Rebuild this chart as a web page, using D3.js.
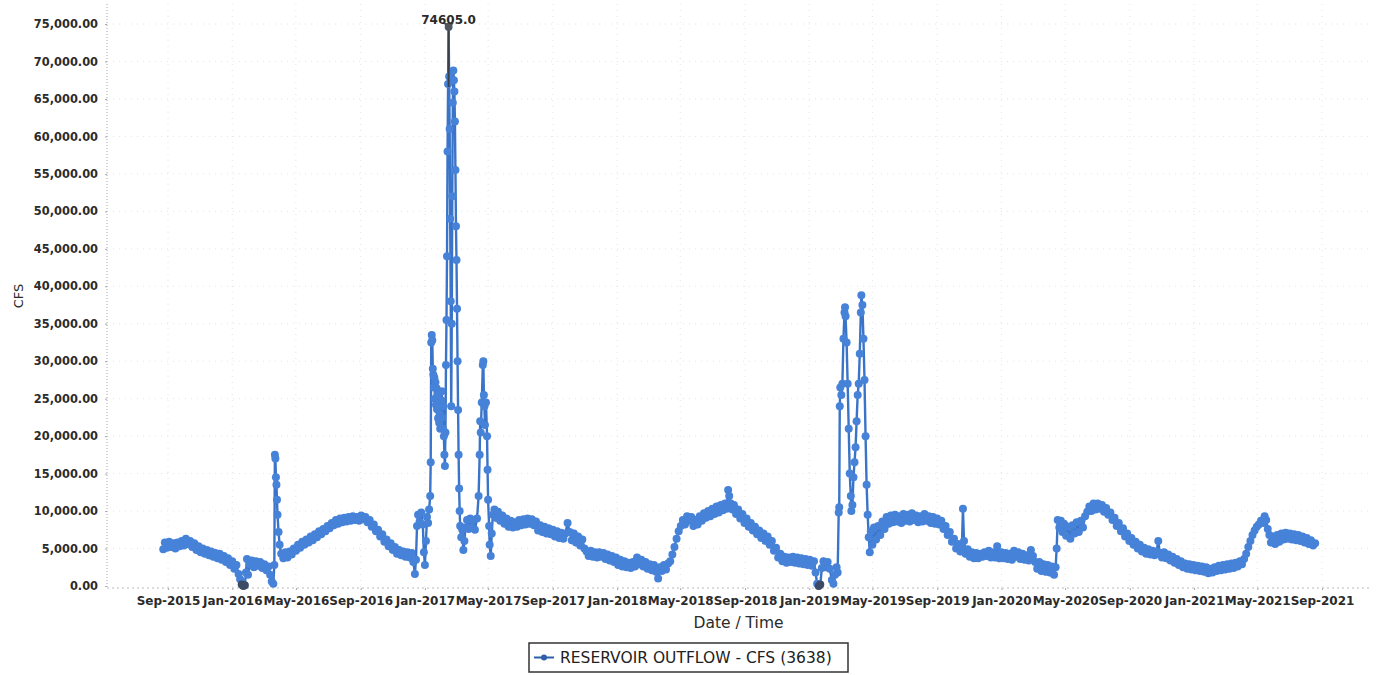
<!DOCTYPE html>
<html lang="en">
<head>
<meta charset="utf-8">
<title>Reservoir Outflow</title>
<style>
  body { margin: 0; background: #fff; }
  svg { display: block; font-family: "DejaVu Sans", sans-serif; }
</style>
</head>
<body>
<script src="https://d3js.org/d3.v7.min.js"></script>
<script>
// series name shown in legend
const seriesName = "RESERVOIR OUTFLOW - CFS (3638)";

// x tick dates (every 4 months)
const xTicks = ["2015-09-01","2016-01-01","2016-05-01","2016-09-01","2017-01-01","2017-05-01",
  "2017-09-01","2018-01-01","2018-05-01","2018-09-01","2019-01-01","2019-05-01","2019-09-01",
  "2020-01-01","2020-05-01","2020-09-01","2021-01-01","2021-05-01","2021-09-01"];

// y ticks (cfs)
const yTicks = [0,5000,10000,15000,20000,25000,30000,35000,40000,45000,50000,55000,60000,65000,70000,75000];

// outflow readings [date, cfs]
const outflow = [
["2015-08-23",4900],["2015-08-26",5800],["2015-08-30",5100],["2015-09-03",5900],["2015-09-07",5200],["2015-09-11",5700],
["2015-09-15",5000],["2015-09-19",5800],["2015-09-23",5300],["2015-09-27",6000],["2015-10-01",5400],["2015-10-05",6300],
["2015-10-09",5600],["2015-10-13",6000],["2015-10-17",5200],["2015-10-21",5700],["2015-10-25",4800],["2015-10-29",5300],
["2015-11-02",4500],["2015-11-06",5000],["2015-11-10",4300],["2015-11-14",4800],["2015-11-18",4100],["2015-11-22",4600],
["2015-11-26",3900],["2015-11-30",4400],["2015-12-04",3700],["2015-12-08",4300],["2015-12-12",3500],["2015-12-16",4000],
["2015-12-20",3200],["2015-12-24",3700],["2015-12-28",2800],["2016-01-01",3300],["2016-01-05",2300],["2016-01-09",2800],
["2016-01-13",1600],["2016-01-16",900],["2016-01-19",200],["2016-01-22",0],["2016-01-25",100],["2016-01-27",1800],
["2016-01-29",3600],["2016-01-31",1500],["2016-02-03",2900],["2016-02-07",3400],["2016-02-11",2500],["2016-02-15",3300],
["2016-02-19",2700],["2016-02-23",3200],["2016-02-27",2400],["2016-03-02",2900],["2016-03-06",2100],["2016-03-10",2600],
["2016-03-13",1500],["2016-03-16",600],["2016-03-19",300],["2016-03-21",2800],["2016-03-22",17500],["2016-03-23",17000],
["2016-03-24",14500],["2016-03-25",13500],["2016-03-26",11500],["2016-03-27",9500],["2016-03-29",7200],["2016-03-31",5500],
["2016-04-03",4300],["2016-04-07",3700],["2016-04-11",4500],["2016-04-15",3800],["2016-04-19",4600],["2016-04-23",4200],
["2016-04-27",5000],["2016-05-01",4700],["2016-05-05",5500],["2016-05-09",5100],["2016-05-13",5900],["2016-05-17",5500],
["2016-05-21",6200],["2016-05-25",5800],["2016-05-29",6600],["2016-06-02",6100],["2016-06-06",6900],["2016-06-10",6500],
["2016-06-14",7300],["2016-06-18",6900],["2016-06-22",7600],["2016-06-26",7300],["2016-06-30",8000],["2016-07-04",7700],
["2016-07-08",8400],["2016-07-12",8100],["2016-07-16",8800],["2016-07-20",8300],["2016-07-24",9000],["2016-07-28",8500],
["2016-08-01",9100],["2016-08-05",8600],["2016-08-09",9200],["2016-08-13",8700],["2016-08-17",9300],["2016-08-21",8800],
["2016-08-25",9200],["2016-08-29",8700],["2016-09-02",9400],["2016-09-06",8900],["2016-09-10",9200],["2016-09-14",8500],
["2016-09-18",8800],["2016-09-22",7900],["2016-09-26",8200],["2016-09-30",7300],["2016-10-04",7500],["2016-10-08",6600],
["2016-10-12",6900],["2016-10-16",5900],["2016-10-20",6200],["2016-10-24",5300],["2016-10-28",5700],["2016-11-01",4800],
["2016-11-05",5200],["2016-11-09",4300],["2016-11-13",4800],["2016-11-17",4100],["2016-11-21",4600],["2016-11-25",3900],
["2016-11-29",4500],["2016-12-03",3800],["2016-12-07",4400],["2016-12-10",3200],["2016-12-13",1600],["2016-12-15",3500],
["2016-12-17",8000],["2016-12-19",9500],["2016-12-22",8600],["2016-12-25",9800],["2016-12-28",8200],["2016-12-30",4500],
["2017-01-01",2800],["2017-01-03",6000],["2017-01-05",9200],["2017-01-07",8400],["2017-01-09",10200],["2017-01-11",12000],
["2017-01-12",16500],["2017-01-13",32500],["2017-01-14",33500],["2017-01-15",32800],["2017-01-16",29000],["2017-01-17",28200],
["2017-01-18",26500],["2017-01-19",27800],["2017-01-20",25000],["2017-01-21",27200],["2017-01-22",24200],["2017-01-23",26400],
["2017-01-24",23600],["2017-01-25",25500],["2017-01-26",22400],["2017-01-27",24000],["2017-01-28",21800],["2017-01-29",23000],
["2017-01-30",21000],["2017-02-01",24800],["2017-02-02",26000],["2017-02-03",22500],["2017-02-04",21000],["2017-02-05",24000],
["2017-02-06",20000],["2017-02-07",17500],["2017-02-08",16000],["2017-02-09",20500],["2017-02-10",29500],["2017-02-11",35500],
["2017-02-12",44000],["2017-02-13",58000],["2017-02-14",67000],["2017-02-15",74605],["2017-02-16",68000],["2017-02-17",61000],
["2017-02-18",49000],["2017-02-19",38000],["2017-02-20",24000],["2017-02-21",35000],["2017-02-22",52000],["2017-02-23",64500],
["2017-02-24",68800],["2017-02-25",67500],["2017-02-26",66000],["2017-02-27",62000],["2017-02-28",55500],["2017-03-01",48000],
["2017-03-02",43500],["2017-03-03",37000],["2017-03-04",30000],["2017-03-05",23500],["2017-03-06",17500],["2017-03-07",13000],
["2017-03-08",10000],["2017-03-09",8000],["2017-03-11",6500],["2017-03-13",7500],["2017-03-15",4800],["2017-03-17",6000],
["2017-03-19",7800],["2017-03-22",8800],["2017-03-25",7600],["2017-03-28",9000],["2017-03-31",7800],["2017-04-03",8800],
["2017-04-06",7500],["2017-04-10",9000],["2017-04-13",12000],["2017-04-15",17500],["2017-04-16",22000],["2017-04-17",20500],
["2017-04-19",24500],["2017-04-21",29500],["2017-04-22",30000],["2017-04-23",25500],["2017-04-24",24000],["2017-04-25",21500],
["2017-04-27",24500],["2017-04-29",20000],["2017-04-30",15500],["2017-05-01",11500],["2017-05-03",8000],["2017-05-04",5500],
["2017-05-06",4000],["2017-05-08",7000],["2017-05-10",9500],["2017-05-13",10200],["2017-05-16",9100],["2017-05-20",9900],
["2017-05-24",8700],["2017-05-28",9400],["2017-06-01",8300],["2017-06-05",9000],["2017-06-09",7900],["2017-06-13",8700],
["2017-06-17",7800],["2017-06-21",8500],["2017-06-25",7900],["2017-06-29",8800],["2017-07-03",8100],["2017-07-07",8900],
["2017-07-11",8200],["2017-07-15",9000],["2017-07-19",8300],["2017-07-23",8900],["2017-07-27",8100],["2017-07-31",8600],
["2017-08-04",7400],["2017-08-08",8100],["2017-08-12",7200],["2017-08-16",7900],["2017-08-20",7000],["2017-08-24",7700],
["2017-08-28",6900],["2017-09-01",7500],["2017-09-05",6600],["2017-09-09",7300],["2017-09-13",6400],["2017-09-17",7100],
["2017-09-21",6300],["2017-09-25",7000],["2017-09-29",8400],["2017-10-03",7200],["2017-10-07",6100],["2017-10-11",7000],
["2017-10-15",5800],["2017-10-19",6600],["2017-10-23",5400],["2017-10-27",6200],["2017-10-31",5000],["2017-11-04",4600],
["2017-11-08",4000],["2017-11-12",4700],["2017-11-16",3900],["2017-11-20",4500],["2017-11-24",3800],["2017-11-28",4500],
["2017-12-02",3900],["2017-12-06",4400],["2017-12-10",3600],["2017-12-14",4200],["2017-12-18",3400],["2017-12-22",4000],
["2017-12-26",3200],["2017-12-30",3800],["2018-01-03",2800],["2018-01-07",3500],["2018-01-11",2600],["2018-01-15",3300],
["2018-01-19",2500],["2018-01-23",3100],["2018-01-27",2400],["2018-01-31",3200],["2018-02-04",2600],["2018-02-08",3800],
["2018-02-12",2900],["2018-02-16",3500],["2018-02-20",2600],["2018-02-24",3200],["2018-02-28",2300],["2018-03-04",2900],
["2018-03-08",2100],["2018-03-12",2800],["2018-03-16",1900],["2018-03-20",1000],["2018-03-23",2500],["2018-03-27",2000],
["2018-03-31",2800],["2018-04-04",2200],["2018-04-08",3000],["2018-04-12",3300],["2018-04-16",4200],["2018-04-20",5200],
["2018-04-24",6300],["2018-04-28",7300],["2018-05-02",8000],["2018-05-06",8800],["2018-05-10",8200],["2018-05-14",9300],
["2018-05-18",8700],["2018-05-22",9200],["2018-05-26",8000],["2018-05-30",8800],["2018-06-03",8200],["2018-06-07",9300],
["2018-06-11",8700],["2018-06-15",9700],["2018-06-19",9100],["2018-06-23",10000],["2018-06-27",9300],["2018-07-01",10300],
["2018-07-05",9600],["2018-07-09",10600],["2018-07-13",9800],["2018-07-17",10800],["2018-07-21",10100],["2018-07-25",11000],
["2018-07-28",10300],["2018-07-31",12800],["2018-08-02",12000],["2018-08-05",11000],["2018-08-08",10200],["2018-08-11",10800],
["2018-08-15",9600],["2018-08-19",10200],["2018-08-23",9000],["2018-08-27",9600],["2018-08-31",8400],["2018-09-04",9000],
["2018-09-08",7900],["2018-09-12",8400],["2018-09-16",7400],["2018-09-20",7900],["2018-09-24",6900],["2018-09-28",7400],
["2018-10-02",6400],["2018-10-06",7000],["2018-10-10",6000],["2018-10-14",6600],["2018-10-18",5500],["2018-10-22",6000],
["2018-10-26",4700],["2018-10-30",5100],["2018-11-03",3800],["2018-11-07",4300],["2018-11-11",3300],["2018-11-15",3900],
["2018-11-19",3100],["2018-11-23",3800],["2018-11-27",3200],["2018-12-01",3900],["2018-12-05",3100],["2018-12-09",3800],
["2018-12-13",3000],["2018-12-17",3700],["2018-12-21",2900],["2018-12-25",3600],["2018-12-29",2800],["2019-01-02",3500],
["2019-01-06",2700],["2019-01-10",3300],["2019-01-13",1800],["2019-01-16",300],["2019-01-19",0],["2019-01-22",200],
["2019-01-25",2400],["2019-01-28",3300],["2019-02-01",2500],["2019-02-05",3200],["2019-02-09",2300],["2019-02-13",800],
["2019-02-16",300],["2019-02-19",1500],["2019-02-22",2500],["2019-02-24",1800],["2019-02-26",9800],["2019-02-27",10500],
["2019-02-28",24000],["2019-03-01",26500],["2019-03-03",25500],["2019-03-05",27000],["2019-03-07",33000],["2019-03-09",36500],
["2019-03-10",37200],["2019-03-11",36000],["2019-03-13",32500],["2019-03-15",27000],["2019-03-17",21000],["2019-03-19",15000],
["2019-03-21",12000],["2019-03-22",10000],["2019-03-24",10800],["2019-03-26",14500],["2019-03-28",16500],["2019-03-30",18500],
["2019-04-01",22000],["2019-04-03",25500],["2019-04-05",27000],["2019-04-07",31000],["2019-04-09",36500],["2019-04-10",38800],
["2019-04-12",37500],["2019-04-14",33000],["2019-04-16",27500],["2019-04-18",20000],["2019-04-20",13500],["2019-04-22",9500],
["2019-04-24",6500],["2019-04-26",4500],["2019-04-28",7300],["2019-05-01",5500],["2019-05-04",7800],["2019-05-08",6200],
["2019-05-12",8000],["2019-05-16",6800],["2019-05-20",8600],["2019-05-24",7600],["2019-05-28",9200],["2019-06-01",8300],
["2019-06-05",9400],["2019-06-09",8500],["2019-06-13",9500],["2019-06-17",8600],["2019-06-21",9300],["2019-06-25",8400],
["2019-06-29",9600],["2019-07-03",8700],["2019-07-07",9500],["2019-07-11",8600],["2019-07-15",9700],["2019-07-19",8800],
["2019-07-23",9400],["2019-07-27",8500],["2019-07-31",9300],["2019-08-04",8600],["2019-08-08",9600],["2019-08-12",8700],
["2019-08-16",9300],["2019-08-20",8400],["2019-08-24",9200],["2019-08-28",8300],["2019-09-01",9000],["2019-09-05",8200],
["2019-09-09",8700],["2019-09-13",7600],["2019-09-17",8000],["2019-09-21",6800],["2019-09-25",7200],["2019-09-29",5900],
["2019-10-03",6300],["2019-10-07",5000],["2019-10-11",5600],["2019-10-15",4600],["2019-10-18",5300],["2019-10-20",10300],
["2019-10-22",6000],["2019-10-25",4300],["2019-10-29",4900],["2019-11-02",3900],["2019-11-06",4500],["2019-11-10",3700],
["2019-11-14",4400],["2019-11-18",3700],["2019-11-22",4300],["2019-11-26",3900],["2019-11-30",4500],["2019-12-04",4000],
["2019-12-08",4700],["2019-12-12",3800],["2019-12-16",4500],["2019-12-20",3800],["2019-12-24",5300],["2019-12-28",3700],
["2020-01-01",4500],["2020-01-05",3700],["2020-01-09",4400],["2020-01-13",3600],["2020-01-17",4300],["2020-01-21",3500],
["2020-01-25",4700],["2020-01-29",3900],["2020-02-02",4500],["2020-02-06",3600],["2020-02-10",4300],["2020-02-14",3500],
["2020-02-18",4100],["2020-02-22",3400],["2020-02-26",4800],["2020-03-01",4000],["2020-03-05",3200],["2020-03-09",2300],
["2020-03-13",3200],["2020-03-17",2000],["2020-03-21",2900],["2020-03-25",1900],["2020-03-29",2800],["2020-04-02",1800],
["2020-04-06",2600],["2020-04-10",1500],["2020-04-13",2500],["2020-04-15",5000],["2020-04-17",8800],["2020-04-20",7800],
["2020-04-23",8700],["2020-04-26",7200],["2020-04-29",8300],["2020-05-03",6700],["2020-05-07",7900],["2020-05-11",6300],
["2020-05-15",8100],["2020-05-19",7000],["2020-05-23",8500],["2020-05-27",7200],["2020-05-31",8700],["2020-06-04",7800],
["2020-06-08",9300],["2020-06-12",9900],["2020-06-16",10600],["2020-06-20",10000],["2020-06-24",11000],["2020-06-28",10200],
["2020-07-02",11000],["2020-07-06",10300],["2020-07-10",10800],["2020-07-14",9900],["2020-07-18",10400],["2020-07-22",9500],
["2020-07-26",9800],["2020-07-30",8800],["2020-08-03",9100],["2020-08-07",8000],["2020-08-11",8400],["2020-08-15",7300],
["2020-08-19",7700],["2020-08-23",6600],["2020-08-27",7000],["2020-08-31",6000],["2020-09-04",6400],["2020-09-08",5500],
["2020-09-12",5900],["2020-09-16",5000],["2020-09-20",5500],["2020-09-24",4600],["2020-09-28",5100],["2020-10-02",4300],
["2020-10-06",4900],["2020-10-10",4200],["2020-10-14",4700],["2020-10-18",4100],["2020-10-22",4600],["2020-10-25",6000],
["2020-10-28",4400],["2020-11-01",3800],["2020-11-05",4500],["2020-11-09",3700],["2020-11-13",4200],["2020-11-17",3400],
["2020-11-21",3900],["2020-11-25",3100],["2020-11-29",3600],["2020-12-03",2800],["2020-12-07",3300],["2020-12-11",2500],
["2020-12-15",3000],["2020-12-19",2300],["2020-12-23",2900],["2020-12-27",2200],["2020-12-31",2800],["2021-01-04",2100],
["2021-01-08",2700],["2021-01-12",2000],["2021-01-16",2600],["2021-01-20",1900],["2021-01-24",2500],["2021-01-28",1700],
["2021-02-01",2300],["2021-02-05",1800],["2021-02-09",2500],["2021-02-13",2000],["2021-02-17",2700],["2021-02-21",2100],
["2021-02-25",2800],["2021-03-01",2200],["2021-03-05",2900],["2021-03-09",2300],["2021-03-13",3000],["2021-03-17",2400],
["2021-03-21",3100],["2021-03-25",2600],["2021-03-29",3300],["2021-04-02",2900],["2021-04-06",3600],["2021-04-10",4300],
["2021-04-14",5200],["2021-04-18",6000],["2021-04-22",6800],["2021-04-26",7400],["2021-04-30",7900],["2021-05-04",8200],
["2021-05-08",8700],["2021-05-12",8400],["2021-05-15",9300],["2021-05-18",8800],["2021-05-21",7600],["2021-05-24",6800],
["2021-05-27",5800],["2021-05-31",6600],["2021-06-04",5600],["2021-06-08",6800],["2021-06-12",5900],["2021-06-16",7000],
["2021-06-20",6200],["2021-06-24",7100],["2021-06-28",6300],["2021-07-02",7000],["2021-07-06",6200],["2021-07-10",6900],
["2021-07-14",6100],["2021-07-18",6800],["2021-07-22",6000],["2021-07-26",6600],["2021-07-30",5800],["2021-08-03",6400],
["2021-08-07",5600],["2021-08-11",6100],["2021-08-15",5400],["2021-08-19",5700]
];

const W = 1377, H = 675;
const plot = {left: 107, right: 1370, top: 4, bottom: 588};

const parse = d3.utcParse("%Y-%m-%d");
const data = outflow.map(d => ({date: parse(d[0]), cfs: d[1]}));

const svg = d3.select("body").append("svg")
  .attr("width", W)
  .attr("height", H);

svg.append("rect").attr("width", W).attr("height", H).attr("fill", "#fff");

const x = d3.scaleUtc()
  .domain([parse("2015-09-01"), parse("2021-09-01")])
  .range([168, 1322]);

const y = d3.scaleLinear()
  .domain([0, 75000])
  .range([586, 24]);

const tickDates = xTicks.map(parse);

// gridlines, very faint dotted
const grid = svg.append("g").attr("stroke", "#e4e4e4").attr("stroke-dasharray", "1,5");
grid.selectAll("line.v").data(tickDates).join("line")
  .attr("class", "v")
  .attr("x1", d => x(d)).attr("x2", d => x(d))
  .attr("y1", plot.top).attr("y2", plot.bottom);
grid.selectAll("line.h").data(yTicks.slice(1)).join("line")
  .attr("class", "h")
  .attr("x1", plot.left).attr("x2", plot.right)
  .attr("y1", d => y(d)).attr("y2", d => y(d));

// left axis
const leftAxis = d3.axisLeft(y)
  .tickValues(yTicks)
  .tickFormat(d3.format(",.2f"))
  .tickSize(2)
  .tickPadding(7);
const gy = svg.append("g")
  .attr("transform", "translate(" + plot.left + ",0)")
  .call(leftAxis);
gy.select(".domain").remove();
gy.selectAll(".tick line").attr("stroke", "#aaa");
gy.selectAll("text")
  .attr("font-family", "DejaVu Sans")
  .attr("font-weight", "bold")
  .attr("font-size", "11.4px")
  .attr("fill", "#2b2b2b");
svg.append("line")
  .attr("x1", plot.left).attr("x2", plot.left)
  .attr("y1", plot.top).attr("y2", plot.bottom)
  .attr("stroke", "#aaa").attr("stroke-dasharray", "1,2");

// bottom axis
const bottomAxis = d3.axisBottom(x)
  .tickValues(tickDates)
  .tickFormat(d3.utcFormat("%b-%Y"))
  .tickSize(2)
  .tickPadding(6);
const gx = svg.append("g")
  .attr("transform", "translate(0," + plot.bottom + ")")
  .call(bottomAxis);
gx.select(".domain").remove();
gx.selectAll(".tick line").attr("stroke", "#aaa");
gx.selectAll("text")
  .attr("font-family", "DejaVu Sans")
  .attr("font-weight", "bold")
  .attr("font-size", "12px")
  .attr("fill", "#2b2b2b");
svg.append("line")
  .attr("x1", plot.left).attr("x2", plot.right)
  .attr("y1", plot.bottom).attr("y2", plot.bottom)
  .attr("stroke", "#bbb").attr("stroke-dasharray", "2,3");

// axis titles
svg.append("text")
  .attr("x", (plot.left + plot.right) / 2)
  .attr("y", 628)
  .attr("text-anchor", "middle")
  .attr("font-size", "15.5px")
  .attr("fill", "#2b2b2b")
  .text("Date / Time");

svg.append("text")
  .attr("transform", "translate(23," + ((plot.top + plot.bottom) / 2) + ")rotate(-90)")
  .attr("text-anchor", "middle")
  .attr("font-size", "13px")
  .attr("fill", "#2b2b2b")
  .text("CFS");

// series line + points
const line = d3.line().x(d => x(d.date)).y(d => y(d.cfs));
svg.append("path")
  .datum(data)
  .attr("fill", "none")
  .attr("stroke", "#3a74c8")
  .attr("stroke-width", 2.4)
  .attr("d", line);

svg.append("g").selectAll("circle").data(data).join("circle")
  .attr("cx", d => x(d.date))
  .attr("cy", d => y(d.cfs))
  .attr("r", 4)
  .attr("fill", d => d.cfs <= 200 ? "#3d4a66" : "#4682d8");

// peak annotation
const peak = data.reduce((a, b) => b.cfs > a.cfs ? b : a);
svg.append("line")
  .attr("x1", x(peak.date)).attr("x2", x(peak.date))
  .attr("y1", y(peak.cfs)).attr("y2", y(peak.cfs) + 60)
  .attr("stroke", "#3a3f4a").attr("stroke-width", 2);
svg.append("path")
  .attr("transform", "translate(" + x(peak.date) + "," + y(peak.cfs) + ")")
  .attr("d", "M-5,-4 L5,-4 L0,4 Z")
  .attr("fill", "#555");
svg.append("circle")
  .attr("cx", x(peak.date)).attr("cy", y(peak.cfs))
  .attr("r", 3.5).attr("fill", "#555");
svg.append("text")
  .attr("x", x(peak.date))
  .attr("y", y(peak.cfs) - 3)
  .attr("text-anchor", "middle")
  .attr("font-weight", "bold")
  .attr("font-size", "12px")
  .attr("fill", "#2b2b2b")
  .text(d3.format(".1f")(peak.cfs));

// legend
const legend = svg.append("g").attr("transform", "translate(529,643)");
legend.append("rect")
  .attr("width", 319).attr("height", 29)
  .attr("fill", "#fff").attr("stroke", "#333").attr("stroke-width", 1.5);
legend.append("line")
  .attr("x1", 5).attr("x2", 25).attr("y1", 14.5).attr("y2", 14.5)
  .attr("stroke", "#2f5fa8").attr("stroke-width", 2);
legend.append("circle")
  .attr("cx", 15).attr("cy", 14.5).attr("r", 3)
  .attr("fill", "#2f5fa8");
legend.append("text")
  .attr("x", 31).attr("y", 20)
  .attr("font-size", "15.5px")
  .attr("fill", "#222")
  .text(seriesName);
</script>
</body>
</html>
